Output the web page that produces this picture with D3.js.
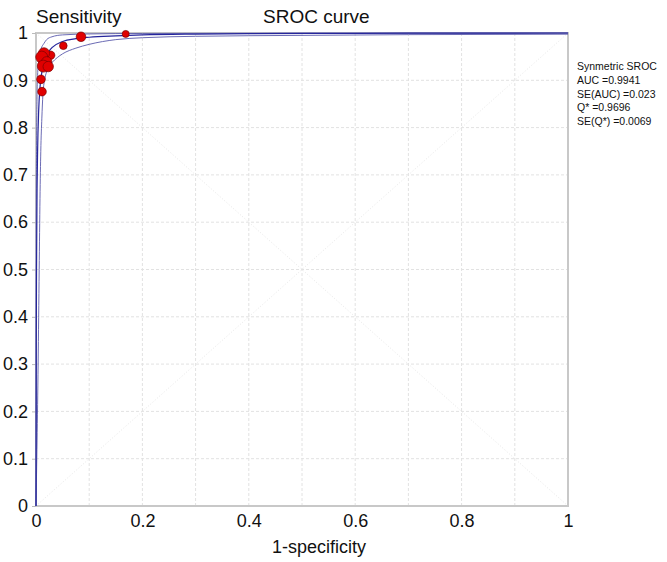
<!DOCTYPE html>
<html><head><meta charset="utf-8">
<script src="https://cdn.jsdelivr.net/npm/d3@7"></script>
<style>
html,body{margin:0;padding:0;background:#fff;}
svg text{font-family:"Liberation Sans",Arial,Helvetica,sans-serif;fill:#111;}
</style></head>
<body><svg id="c" width="667" height="562"></svg>
<script>
// ---- data ----
const studyFPR  = [0.1686,0.0846,0.0514,0.0276,0.0150,0.0107,0.0200,0.0138,0.0230,0.0094,0.0113];
const studySens = [0.998, 0.992, 0.973, 0.953, 0.957, 0.949, 0.939, 0.930, 0.929, 0.902, 0.876];
const studyWeight=[3.5,   4.8,   3.8,   4.2,   5.6,   6.0,   5.2,   6.0,   5.2,   4.3,   4.3];

const srocFPR   = [0,0.0005,0.001,0.002,0.003,0.005,0.0075,0.01,0.015,0.02,0.03,0.05,0.075,0.1,0.15,0.2,0.3,0.4,0.6,0.8,1];
const srocSens  = [0,0.34,0.50,0.67,0.75,0.835,0.885,0.91,0.94,0.954,0.969,0.982,0.988,0.991,0.994,0.996,0.9977,0.9985,0.9993,0.9997,1];

const upperFPR  = [0,0.0004,0.001,0.002,0.003,0.005,0.0075,0.01,0.015,0.02,0.03,0.05,0.1,0.2,0.5,1];
const upperSens = [0,0.6,0.75,0.87,0.91,0.94,0.958,0.968,0.978,0.986,0.992,0.996,0.998,0.999,0.9997,1];

const lowerFPR  = [0,0.004,0.006,0.0075,0.009,0.011,0.013,0.016,0.02,0.03,0.04,0.05,0.075,0.1,0.15,0.2,0.3,0.5,0.7,1];
const lowerSens = [0,0.3,0.5,0.65,0.75,0.82,0.87,0.9,0.918,0.937,0.948,0.956,0.968,0.976,0.986,0.990,0.993,0.995,0.9965,0.9975];

const xTicks = [0,0.2,0.4,0.6,0.8,1];
const xTickLabels = ["0","0.2","0.4","0.6","0.8","1"];
const yTicks = [0,0.1,0.2,0.3,0.4,0.5,0.6,0.7,0.8,0.9,1];
const yTickLabels = ["0","0.1","0.2","0.3","0.4","0.5","0.6","0.7","0.8","0.9","1"];
const gridVals = [0.1,0.2,0.3,0.4,0.5,0.6,0.7,0.8,0.9];
const statLines = ["Synmetric SROC","AUC =0.9941","SE(AUC) =0.023","Q* =0.9696","SE(Q*) =0.0069"];

// ---- drawing ----
const svg = d3.select("#c");
const L=36,R=568,T=33,B=506;
const x = d3.scaleLinear().domain([0,1]).range([L,R]);
const y = d3.scaleLinear().domain([0,1]).range([B,T]);

// grid
const g = svg.append("g");
g.selectAll(".vg").data(gridVals).enter().append("line")
  .attr("x1",d=>x(d)).attr("x2",d=>x(d)).attr("y1",T).attr("y2",B)
  .attr("stroke","#e2e2e2").attr("stroke-width",1).attr("stroke-dasharray","3,2");
g.selectAll(".hg").data(gridVals).enter().append("line")
  .attr("y1",d=>y(d)).attr("y2",d=>y(d)).attr("x1",L).attr("x2",R)
  .attr("stroke","#e2e2e2").attr("stroke-width",1).attr("stroke-dasharray","3,2");
// diagonals
g.append("line").attr("x1",x(0)).attr("y1",y(0)).attr("x2",x(1)).attr("y2",y(1))
  .attr("stroke","#e8e8e8").attr("stroke-dasharray","1,2");
g.append("line").attr("x1",x(0)).attr("y1",y(1)).attr("x2",x(1)).attr("y2",y(0))
  .attr("stroke","#e8e8e8").attr("stroke-dasharray","1,2");

// frame
svg.append("rect").attr("x",L).attr("y",T).attr("width",R-L).attr("height",B-T)
  .attr("fill","none").attr("stroke","#c8c8c8").attr("stroke-width",2);

// axes
const yAxis = d3.axisLeft(y).tickValues(yTicks).tickFormat((d,i)=>yTickLabels[i]).tickSize(4).tickPadding(4);
const ya = svg.append("g").attr("transform",`translate(${L},0)`).call(yAxis);
ya.select(".domain").remove();
ya.selectAll("line").attr("stroke","#bbb");
ya.selectAll("text").attr("font-size",18).attr("fill","#111");

const xAxis = d3.axisBottom(x).tickValues(xTicks).tickFormat((d,i)=>xTickLabels[i]).tickSize(0).tickPadding(8);
const xa = svg.append("g").attr("transform",`translate(0,${B})`).call(xAxis);
xa.select(".domain").remove();
xa.selectAll("text").attr("font-size",18).attr("fill","#111");

// curves
const line = d3.line().x(d=>x(d[0])).y(d=>y(d[1])).curve(d3.curveMonotoneX);
const zip=(a,b)=>a.map((v,i)=>[v,b[i]]);
svg.append("path").attr("d",line(zip(upperFPR,upperSens))).attr("fill","none")
  .attr("stroke","#5a5aac").attr("stroke-width",0.9);
svg.append("path").attr("d",line(zip(lowerFPR,lowerSens))).attr("fill","none")
  .attr("stroke","#5a5aac").attr("stroke-width",0.9);
svg.append("path").attr("d",line(zip(srocFPR,srocSens))).attr("fill","none")
  .attr("stroke","#26269c").attr("stroke-width",1.2);

// study points
svg.selectAll(".pt").data(studyFPR).enter().append("circle")
  .attr("cx",d=>x(d)).attr("cy",(d,i)=>y(studySens[i])).attr("r",(d,i)=>studyWeight[i])
  .attr("fill","#e00000").attr("stroke","#7a0000").attr("stroke-width",0.7);

// texts
svg.append("text").attr("x",36).attr("y",23).attr("font-size",19).text("Sensitivity");
svg.append("text").attr("x",263).attr("y",23).attr("font-size",19).text("SROC curve");
svg.append("text").attr("x",319).attr("y",553).attr("font-size",18).attr("text-anchor","middle").text("1-specificity");
svg.selectAll(".st").data(statLines).enter().append("text")
  .attr("x",577).attr("y",(d,i)=>70+i*13.75).attr("font-size",10.5).attr("fill","#222").text(d=>d);
</script></body></html>
